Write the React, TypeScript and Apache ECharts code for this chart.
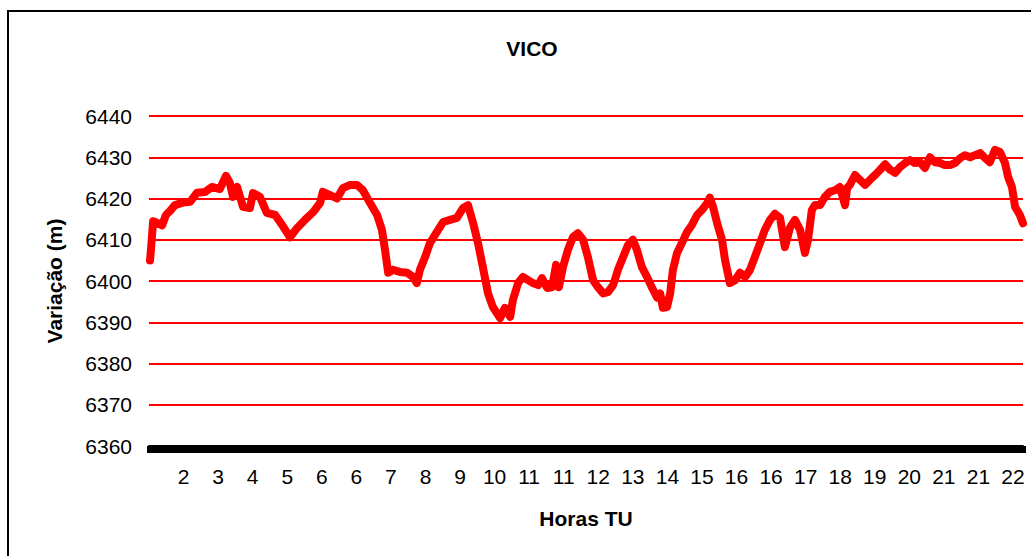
import React, { useEffect, useRef } from "react";
import * as echarts from "echarts";

const title = "VICO";
const yAxisName = "Variação (m)";
const xAxisName = "Horas TU";
const yMin = 6360;
const yMax = 6440;
const yStep = 10;

// hour labels shown under the axis, one per label slot (slot 1..25)
const xLabels = ["2", "3", "4", "5", "6", "6", "7", "8", "9", "10", "11", "11", "12", "13", "14", "15", "16", "16", "17", "18", "19", "20", "21", "21", "22"];
const xSlotsMax = 25.29;

// sample positions, in label slots
const xs = [
  0.03, 0.06, 0.12, 0.26, 0.38, 0.49, 0.61, 0.75, 0.98, 1.19, 1.39, 1.62, 1.82, 2.05, 2.23, 2.34, 2.43, 2.55, 2.72, 2.92,
  3.01, 3.21, 3.41, 3.65, 3.85, 4.08, 4.28, 4.51, 4.75, 4.95, 5.03, 5.24, 5.44, 5.61, 5.82, 6.02, 6.19, 6.39, 6.6, 6.74,
  6.83, 6.92, 7.06, 7.26, 7.47, 7.64, 7.75, 7.84, 7.99, 8.13, 8.33, 8.51, 8.71, 8.91, 9.09, 9.23, 9.38, 9.52, 9.66, 9.81,
  9.95, 10.16, 10.3, 10.45, 10.53, 10.68, 10.82, 10.97, 11.11, 11.26, 11.37, 11.52, 11.66, 11.78, 11.86, 11.98, 12.12, 12.27, 12.41, 12.56,
  12.7, 12.85, 12.99, 13.14, 13.28, 13.43, 13.57, 13.72, 13.86, 14.0, 14.12, 14.26, 14.41, 14.55, 14.7, 14.79, 14.87, 14.99, 15.08, 15.16,
  15.28, 15.42, 15.57, 15.71, 15.86, 16.0, 16.15, 16.23, 16.32, 16.44, 16.58, 16.67, 16.81, 16.96, 17.1, 17.25, 17.39, 17.53, 17.68, 17.82,
  17.97, 18.11, 18.26, 18.4, 18.55, 18.69, 18.84, 18.98, 19.07, 19.18, 19.27, 19.42, 19.56, 19.7, 19.85, 19.99, 20.14, 20.2, 20.28, 20.43,
  20.57, 20.72, 20.86, 21.01, 21.15, 21.3, 21.44, 21.59, 21.73, 21.88, 22.02, 22.16, 22.31, 22.45, 22.6, 22.74, 22.89, 23.03, 23.18, 23.32,
  23.47, 23.61, 23.76, 23.9, 24.05, 24.19, 24.33, 24.48, 24.62, 24.77, 24.86, 24.97, 25.06, 25.2, 25.29,
];

// variation (m)
const ys = [
  6405, 6408, 6414.5, 6414, 6413.5, 6416, 6417, 6418.4, 6419, 6419.2, 6421.4, 6421.6, 6422.8, 6422.3, 6425.5, 6423.8, 6420.4, 6422.8, 6418, 6417.7,
  6421.3, 6420.4, 6416.5, 6416, 6413.6, 6410.6, 6412.8, 6414.8, 6416.7, 6418.9, 6421.6, 6420.8, 6420, 6422.5, 6423.3, 6423.3, 6422, 6419, 6416, 6412.4,
  6407.5, 6402, 6402.7, 6402.2, 6402, 6401, 6399.5, 6402.7, 6405.8, 6409.2, 6411.9, 6414.3, 6414.8, 6415.3, 6417.7, 6418.4, 6414, 6409.2, 6403.4, 6397,
  6393.7, 6391, 6393.5, 6391.3, 6395.4, 6399.5, 6401, 6400.2, 6399.5, 6399, 6400.7, 6398.3, 6398.5, 6403.9, 6398.5, 6403.4, 6407.5, 6410.7, 6411.6, 6410,
  6405.8, 6400.2, 6398.5, 6397, 6397.3, 6399, 6402.7, 6405.8, 6408.7, 6410, 6407.5, 6403.4, 6401, 6398.5, 6396, 6397, 6393.5, 6393.7, 6397, 6402.7,
  6406.8, 6409.2, 6411.9, 6413.6, 6416, 6417.2, 6418.9, 6420.2, 6418, 6414, 6410, 6405, 6399.5, 6400.2, 6402, 6401, 6402.7, 6405.8, 6409.2, 6412.4,
  6414.8, 6416.3, 6415.3, 6408.2, 6413, 6414.8, 6412.4, 6406.8, 6410, 6417.2, 6418.4, 6418.4, 6420.4, 6421.6, 6422, 6422.8, 6418.4, 6422.5, 6423.3, 6425.7,
  6424.5, 6423.3, 6424.5, 6425.7, 6426.9, 6428.3, 6427, 6426.2, 6427.6, 6428.6, 6429.3, 6428.6, 6428.8, 6427.4, 6430, 6428.8, 6428.6, 6428.1, 6428.1, 6428.6,
  6429.8, 6430.5, 6430, 6430.5, 6431, 6429.8, 6428.8, 6431.8, 6431.3, 6428.6, 6425.2, 6422.8, 6418, 6416, 6414,
];

const FONT = "'Liberation Sans', Arial, sans-serif";

export default function App() {
  const ref = useRef<HTMLDivElement>(null);

  useEffect(() => {
    if (!ref.current) return;
    const chart = echarts.init(ref.current, null, { renderer: "svg" });
    const points = xs.map((x, i) => [x, ys[i]]);
    chart.setOption({
      animation: false,
      backgroundColor: "#ffffff",
      title: {
        text: title,
        left: 527,
        top: 33,
        textAlign: "center",
        textStyle: { fontFamily: FONT, fontSize: 21, fontWeight: "bold", color: "#000" },
      },
      graphic: [
        {
          type: "rect",
          shape: { x: 8, y: 11, width: 1200, height: 700 },
          style: { stroke: "#000", lineWidth: 2, fill: "none" },
          silent: true,
          z: -10,
        },
      ],
      grid: { left: 149, right: 8, top: 116, bottom: 110, containLabel: false },
      xAxis: {
        type: "value",
        min: 0,
        max: xSlotsMax,
        interval: 1,
        name: xAxisName,
        nameLocation: "middle",
        nameGap: 62,
        nameTextStyle: { fontFamily: FONT, fontSize: 21, fontWeight: "bold", color: "#000" },
        axisLine: { show: true, lineStyle: { color: "#000", width: 2 } },
        axisTick: { show: true, length: 7, lineStyle: { color: "#000", width: 5 } },
        minorTick: { show: true, splitNumber: 7, length: 7, lineStyle: { color: "#000", width: 5 } },
        splitLine: { show: false },
        minorSplitLine: { show: false },
        axisLabel: {
          margin: 20,
          fontFamily: FONT,
          fontSize: 21,
          color: "#000",
          showMaxLabel: false,
          formatter: (v: number) => {
            const r = Math.round(v);
            if (Math.abs(v - r) > 1e-6 || r < 1 || r > xLabels.length) return "";
            return xLabels[r - 1];
          },
        },
      },
      yAxis: {
        type: "value",
        min: yMin,
        max: yMax,
        interval: yStep,
        name: yAxisName,
        nameLocation: "middle",
        nameGap: 84,
        nameTextStyle: { fontFamily: FONT, fontSize: 21, fontWeight: "bold", color: "#000" },
        axisLine: { show: false },
        axisTick: { show: false },
        axisLabel: {
          margin: 17,
          fontFamily: FONT,
          fontSize: 21,
          color: "#000",
          formatter: (v: number) => String(v),
        },
        splitLine: { show: true, lineStyle: { color: "#ff0000", width: 2 } },
      },
      series: [
        {
          type: "line",
          data: points,
          showSymbol: false,
          symbol: "none",
          lineStyle: { color: "#ff0000", width: 8, join: "round", cap: "round" },
          itemStyle: { color: "#ff0000" },
          z: 3,
        },
      ],
    });
    return () => chart.dispose();
  }, []);

  return (
    <div
      ref={ref}
      style={{ position: "absolute", left: 0, top: 0, width: 1031, height: 556, background: "#fff" }}
    />
  );
}
